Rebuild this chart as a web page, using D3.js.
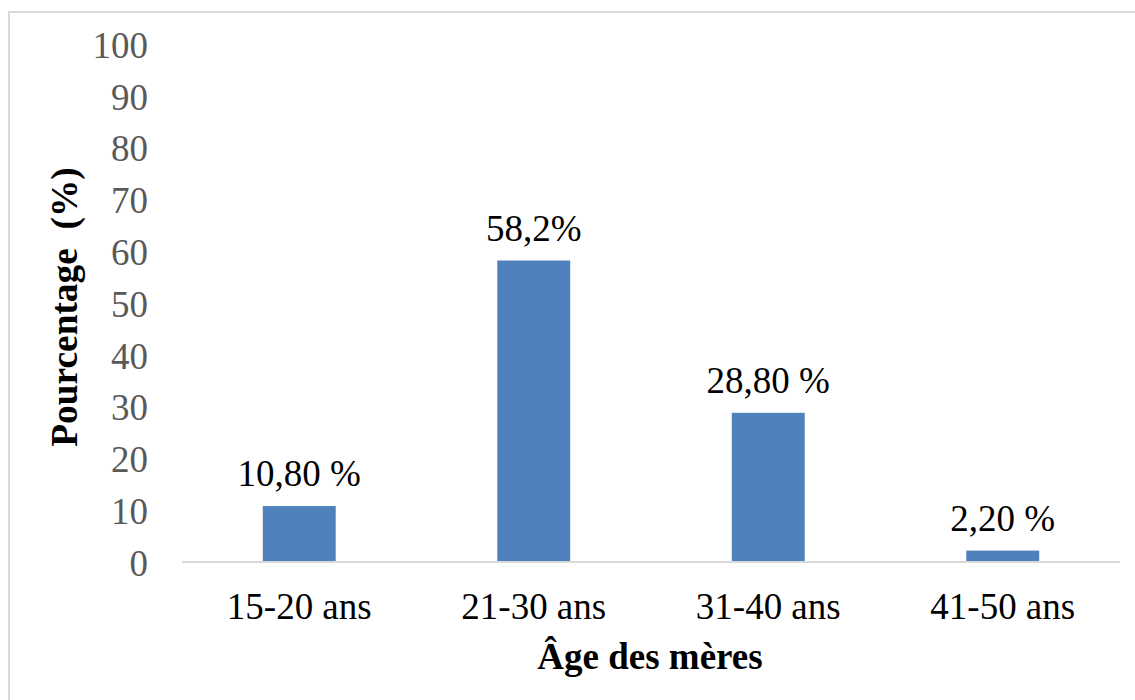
<!DOCTYPE html>
<html>
<head>
<meta charset="utf-8">
<script src="https://cdn.jsdelivr.net/npm/d3@7/dist/d3.min.js"></script>
<style>
  html, body { margin: 0; padding: 0; background: #fff; }
  svg { display: block; }
  text { font-family: "Liberation Serif", "Times New Roman", serif; }
</style>
</head>
<body>
<svg id="chart" width="1135" height="700"></svg>
<script>
// Répartition des mères par tranche d'âge
const categories = ["15-20 ans", "21-30 ans", "31-40 ans", "41-50 ans"];
const values = [10.8, 58.2, 28.8, 2.2];
const valueLabels = ["10,80 %", "58,2%", "28,80 %", "2,20 %"];
const yTicks = [0, 10, 20, 30, 40, 50, 60, 70, 80, 90, 100];

const svg = d3.select("#chart");
const W = 1135, H = 700;
const margin = { left: 182, right: 15, top: 44, bottom: 138 };
const plotW = W - margin.left - margin.right;
const plotH = H - margin.top - margin.bottom;
const fontSize = "37px";
const textScaleY = 1.05;

// outer frame
svg.append("rect")
  .attr("x", 9).attr("y", 12)
  .attr("width", W - 9 + 5).attr("height", H - 12 + 5)
  .attr("fill", "#fff")
  .attr("stroke", "#d9d9d9").attr("stroke-width", 2);

const g = svg.append("g").attr("transform", `translate(${margin.left},${margin.top})`);

const x = d3.scaleBand().domain(categories).range([0, plotW]).padding(0);
const y = d3.scaleLinear().domain([0, 100]).range([plotH, 0]);
const barW = x.bandwidth() * 0.311;

// y axis labels (no line, no ticks)
const yAxis = g.append("g")
  .call(d3.axisLeft(y).tickValues(yTicks).tickSize(0).tickPadding(0).tickFormat(d3.format("d")));
yAxis.select(".domain").remove();
yAxis.selectAll("text")
  .attr("x", null)
  .attr("transform", `translate(-34,0) scale(1,${textScaleY})`)
  .attr("dy", "0.34em")
  .style("font-family", '"Liberation Serif", serif')
  .style("font-size", fontSize)
  .attr("fill", "#595959");

// bars
g.selectAll("rect.bar")
  .data(values)
  .join("rect")
  .attr("class", "bar")
  .attr("x", (d, i) => x(categories[i]) + (x.bandwidth() - barW) / 2)
  .attr("y", d => y(d))
  .attr("width", barW)
  .attr("height", d => y(0) - y(d))
  .attr("fill", "#4f81bd");

// baseline
g.append("line")
  .attr("x1", 0).attr("x2", plotW)
  .attr("y1", y(0)).attr("y2", y(0))
  .attr("stroke", "#d9d9d9").attr("stroke-width", 2);

// value labels
g.selectAll("text.val")
  .data(values)
  .join("text")
  .attr("class", "val")
  .attr("transform", (d, i) => `translate(${x(categories[i]) + x.bandwidth() / 2},${y(d) - 20}) scale(1,${textScaleY})`)
  .attr("text-anchor", "middle")
  .style("font-size", fontSize)
  .attr("fill", "#000")
  .text((d, i) => valueLabels[i]);

// x axis labels
const xAxis = g.append("g")
  .attr("transform", `translate(0,${plotH})`)
  .call(d3.axisBottom(x).tickSize(0).tickPadding(0));
xAxis.select(".domain").remove();
xAxis.selectAll("text")
  .attr("y", null).attr("dy", null)
  .attr("transform", `translate(0,57) scale(1,${textScaleY})`)
  .style("font-family", '"Liberation Serif", serif')
  .style("font-size", fontSize)
  .attr("fill", "#000");

// axis titles
svg.append("text")
  .attr("transform", `translate(650,669) scale(1,${textScaleY})`)
  .attr("text-anchor", "middle")
  .style("font-size", fontSize)
  .style("font-weight", "bold")
  .text("Âge des mères");

svg.append("text")
  .attr("transform", `translate(77,307) rotate(-90) scale(1.01,1)`)
  .attr("text-anchor", "middle")
  .style("font-size", fontSize)
  .style("font-weight", "bold")
  .style("white-space", "pre")
  .attr("xml:space", "preserve")
  .text("Pourcentage  (%)");
</script>
</body>
</html>
